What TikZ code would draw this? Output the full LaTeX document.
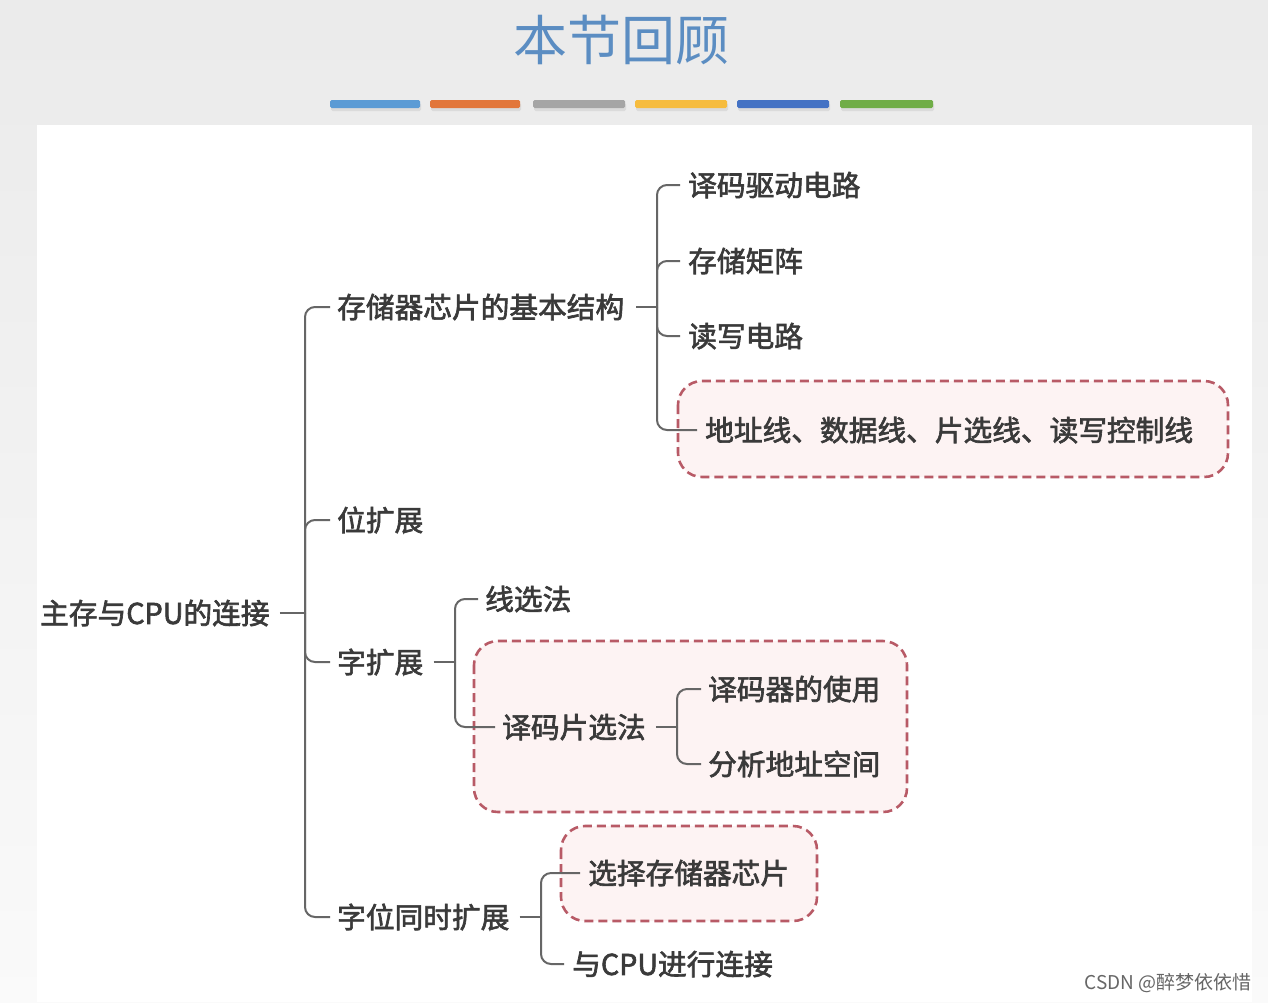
\documentclass[tikz,border=0pt]{standalone}
\usepackage{fontspec}
\setmainfont{Noto Sans CJK SC}
\newfontfamily\cjkb[FakeBold=2.2]{Noto Sans CJK SC}
\newfontfamily\cjkr{Noto Sans CJK SC}
\usetikzlibrary{calc}
\definecolor{txt}{HTML}{3A3A3A}
\definecolor{ln}{HTML}{666666}
\definecolor{hlc}{HTML}{B85A66}
\definecolor{hlf}{HTML}{FDF3F3}
\definecolor{ttl}{HTML}{5B8DC2}
\definecolor{barA}{HTML}{5B9BD5}
\definecolor{barB}{HTML}{E2763A}
\definecolor{barC}{HTML}{A5A5A5}
\definecolor{barD}{HTML}{F6BC3E}
\definecolor{barE}{HTML}{4472C4}
\definecolor{barF}{HTML}{70AD47}
\tikzset{
  t/.style={anchor=west, inner sep=0pt, text height=25.3pt, text depth=3.4pt,
    font=\cjkb\fontsize{28.7}{30}\selectfont, text=txt},
  conn/.style={draw=ln, line width=2pt, rounded corners=10pt},
  hl/.style={draw=hlc, fill=hlf, line width=2.6pt, dash pattern=on 9pt off 5pt, rounded corners=24pt},
  bar/.style={rounded corners=1.5pt},
}
\begin{document}
\begin{tikzpicture}[x=1pt,y=-1pt]
\useasboundingbox (0,0) rectangle (1268,1002);
% background
\shade[top color=black!8, bottom color=black!2] (0,0) rectangle (1268,1002);
\fill[white] (37,125) rectangle (1252,1002);
% title
\node[inner sep=0pt, text=ttl, font=\cjkr\fontsize{54}{56}\selectfont] (title) at (621,40) {本节回顾};
% colour bars
\foreach \xa/\xb/\c in {330/420/barA, 430/520/barB, 533/625/barC, 635/727/barD, 737/829/barE, 840/933/barF}{
  \fill[black!14, bar] (\xa+1,103) rectangle (\xb+1,111);
  \fill[\c, bar] (\xa,100) rectangle (\xb,108);
}
% highlight boxes
\draw[hl] (678,381) rectangle (1228,477);
\draw[hl] (474,641) rectangle (907,812);
\draw[hl] (561,826) rectangle (817,921);
% nodes
\node[t] (root) at (40,613) {主存与CPU的连接};
\node[t] (a) at (337,307) {存储器芯片的基本结构};
\node[t] (b) at (337,520) {位扩展};
\node[t] (c) at (337,662) {字扩展};
\node[t] (d) at (337,917) {字位同时扩展};
\node[t] (a1) at (688,185) {译码驱动电路};
\node[t] (a2) at (688,261) {存储矩阵};
\node[t] (a3) at (688,336) {读写电路};
\node[t] (a4) at (705,430) {地址线、数据线、片选线、读写控制线};
\node[t] (c1) at (485,599) {线选法};
\node[t] (c2) at (502,727) {译码片选法};
\node[t] (c21) at (708,689) {译码器的使用};
\node[t] (c22) at (708,764) {分析地址空间};
\node[t] (d1) at (588,873) {选择存储器芯片};
\node[t] (d2) at (572,964) {与CPU进行连接};
% junctions
\coordinate (j0) at (305,613);
\coordinate (ja) at (657,307);
\coordinate (jc) at (455,662);
\coordinate (jc2) at (677,727);
\coordinate (jd) at (541,917);
% connectors
\draw[conn] ([xshift=10pt]root.east) -- (j0);
\foreach \n in {a,b,c,d}{\draw[conn] (j0) |- ([xshift=-7pt]\n.west);}
\draw[conn] ([xshift=12pt]a.east) -- (ja);
\foreach \n in {a1,a2,a3,a4}{\draw[conn] (ja) |- ([xshift=-8pt]\n.west);}
\draw[conn] ([xshift=10pt]c.east) -- (jc);
\foreach \n in {c1,c2}{\draw[conn] (jc) |- ([xshift=-7pt]\n.west);}
\draw[conn] ([xshift=10pt]c2.east) -- (jc2);
\foreach \n in {c21,c22}{\draw[conn] (jc2) |- ([xshift=-7pt]\n.west);}
\draw[conn] ([xshift=10pt]d.east) -- (jd);
\foreach \n in {d1,d2}{\draw[conn] (jd) |- ([xshift=-8pt]\n.west);}
% watermark
\node[anchor=east, inner sep=0pt, text=black!60, font=\cjkr\fontsize{19}{20}\selectfont] (wm) at (1252,983) {CSDN @醉梦依依惜};
\end{tikzpicture}
\end{document}
